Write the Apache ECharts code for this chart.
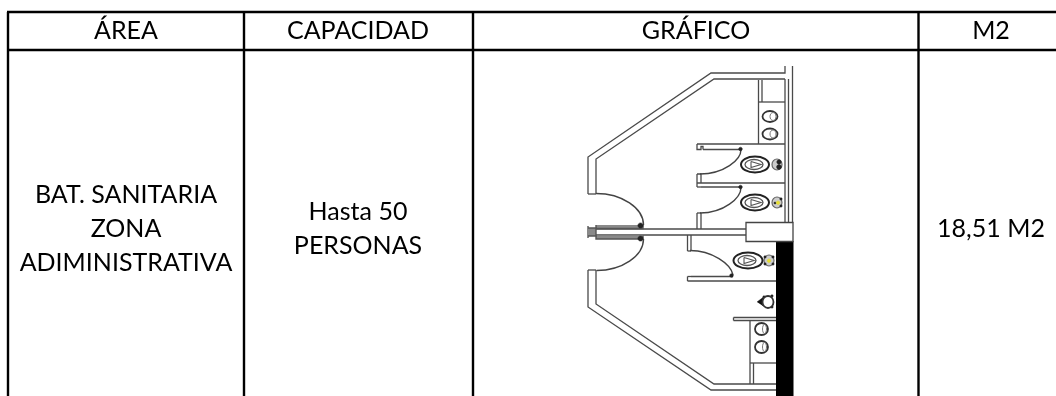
<!DOCTYPE html>
<html><head><meta charset="utf-8">
<style>html,body{margin:0;padding:0;background:#fff}#c{width:1056px;height:396px}</style>
<script src="https://cdn.jsdelivr.net/npm/echarts@6/dist/echarts.min.js"></script>
</head><body><div id="c"></div>
<script>
const headers = [["ÁREA",126,31],["CAPACIDAD",358,31],["GRÁFICO",696,31],["M2",991,31]];
const cells = [
  ["BAT. SANITARIA",126,195],["ZONA",126,229],["ADIMINISTRATIVA",126,263],
  ["Hasta 50",358,212],["PERSONAS",358,246],["18,51 M2",991,229]
];
const tableRules = [
  [[7,12],[1056,12]],[[7,50],[1056,50]],
  [[8,12],[8,396]],[[244,12],[244,396]],[[473,12],[473,396]],[[918.5,12],[918.5,396]]
];
const walls = [
  [[588,194],[588,157],[711,73],[785,73],[785,66]],
  [[596,194],[596,159],[714,79],[785,79]],
  [[588,194],[596,194]],
  [[785,79],[785,223]],[[788.5,79],[788.5,223]],[[792.5,66],[792.5,223]],
  [[588,270],[596,270]],
  [[588,270],[588,307],[711,390],[776,390]],
  [[596,270],[596,304],[714,384],[776,384]],
  [[588,229],[746,229]],[[588,235],[746,235]],
  [[588,226],[588,238]],
  [[758.5,80],[758.5,144]],[[762,80],[762,102]],[[758.5,102],[785,102]],
  [[697,144],[785,144]],[[703,149.5],[741,149.5]],
  [[697,144],[697,149.5],[701,149.5],[701,146.5],[703,146.5],[703,149.5]],
  [[697,174],[697,187]],
  [[697,174],[701,174],[701,183]],
  [[697,183],[785,183]],[[701,187],[741,187]],
  [[697,187],[701,187]],
  [[697,213],[697,229]],[[701,213],[701,229]],[[697,213],[701,213]],
  [[687.5,235],[687.5,251]],[[691,235],[691,251]],[[687.5,251],[691,251]],
  [[691,276.5],[733,276.5]],[[687.5,281],[776,281]],
  [[687.5,276.5],[687.5,281]],[[687.5,276.5],[691,276.5]],
  [[733.5,317.5],[776,317.5]],[[733.5,320.5],[776,320.5]],[[733.5,317.5],[733.5,320.5]],
  [[750,320],[750,384]],[[753.5,363],[753.5,384]],[[750,363],[776,363]]
];
const doorBars = [
  [[596,225],[596,228.5],[643,228.5],[643,225]],
  [[596,235.5],[596,239],[643,239],[643,235.5]],
  [[588,228],[596,228],[596,236],[588,236]]
];
const doorSwings = [
  [[596,193.5],[622,193.5],[643.5,208],[643.5,225]],
  [[643.5,239],[643.5,256],[622,270.5],[596.5,270.5]],
  [[741,149.5],[741,160],[724,174],[700,174]],
  [[741,187.5],[741,198],[724,213],[700,213]],
  [[733,275],[731,264],[712,250.5],[690,250.5]]
];
const blobs = [[640.5,225.5,2.6],[640.5,238.5,2.6],[740.5,149,1.8],[740.5,187,1.8],[731.5,275.5,1.8],[779,162,2.2],[779,167,2.4],[775,203,1.1],[781,199,1.2],[781,206,1.2],[765,257,1.2],[765,264,1.2],[773,257,1.2],[773,264,1.2],[764,297,1.2],[772,296,1.2],[772,307,1.2]];
const toiletBowls = [[755,164.5,14,8],[755,202.5,14,8],[748,260.5,14.5,8]];
const toiletInner = [[754,164.5,9,5],[754,202.5,9,5],[747,260.5,9,5]];
const toiletSeats = [
  [[751,161.5],[761,164.5],[751,167.5],[751,161.5]],
  [[751,199.5],[761,202.5],[751,205.5],[751,199.5]],
  [[744,257.5],[754,260.5],[744,263.5],[744,257.5]]
];
const toiletTanks = [[777,164.5,5,5.5],[777,202.5,5,5.5],[769,260.5,5,5.5]];
const flushDots = [[778,202.7],[769,260.7]];
const basins = [[770,116.5,7.5,5.5],[770,134,7.5,5.5],[761.5,329,6.5,6],[761.5,347,6.5,6]];
const urinals = [[768,302,5.5,6]];
const urinalTips = [[[757,302],[763,297.5],[763,306]]];
const blackWall = [[776,241],[793.5,396]];
const serviceBlock = [[746,222.5],[793,241.5]];

function corners(p, api){ return p.map(q => api.coord(q)); }
function bounds(r, api){
  const a = api.coord(r[0]), b = api.coord(r[1]);
  return {x:a[0],y:a[1],width:b[0]-a[0],height:b[1]-a[1]};
}
function seriesOf(items, build){
  return {type:'custom',coordinateSystem:'cartesian2d',silent:true,clip:false,
    data:items.map((_,i)=>[i]),
    renderItem:(p,api)=>build(items[p.dataIndex],api)};
}
const lineS = (items,stroke,w,fill) => seriesOf(items,(pts,api)=>({type:'polyline',
  shape:{points:corners(pts,api)},style:{stroke,lineWidth:w,fill:fill||null}}));
const ellS = (items,stroke,w,fill) => seriesOf(items,(e,api)=>{
  const c=api.coord([e[0],e[1]]), s=api.size([e[2],e[3]]);
  return {type:'ellipse',shape:{cx:c[0],cy:c[1],rx:s[0],ry:s[1]},style:{stroke,lineWidth:w,fill:fill||'#fff'}};
});
const textS = items => seriesOf(items,(t,api)=>{
  const c=api.coord([t[1],t[2]]);
  return {type:'text',x:c[0],y:c[1],style:{text:t[0],fill:'#000',align:'center',verticalAlign:'middle',
    fontFamily:'Lato',fontSize:25}};
});

const chart = echarts.init(document.getElementById('c'),null,{renderer:'canvas'});
chart.setOption({
  animation:false,backgroundColor:'#fff',tooltip:{show:false},
  grid:{left:0,right:0,top:0,bottom:0},
  xAxis:{type:'value',min:0,max:1056,show:false},
  yAxis:{type:'value',min:0,max:396,inverse:true,show:false},
  series:[
    seriesOf([blackWall],(r,api)=>({type:'rect',shape:bounds(r,api),style:{fill:'#000'}})),
    lineS(walls,'#4a4a4a',1.3),
    lineS(doorBars,'#555',1.4,'#8a8a8a'),
    seriesOf(doorSwings,(k,api)=>{
      const q=corners(k,api);
      return {type:'bezierCurve',shape:{x1:q[0][0],y1:q[0][1],cpx1:q[1][0],cpy1:q[1][1],cpx2:q[2][0],cpy2:q[2][1],x2:q[3][0],y2:q[3][1]},
        style:{stroke:'#444',lineWidth:1.4,fill:null}};
    }),
    seriesOf([serviceBlock],(r,api)=>({type:'rect',shape:bounds(r,api),style:{fill:'#fff',stroke:'#444',lineWidth:1.3}})),
    ellS(toiletTanks,'#666',1.2,'#ccc'),
    ellS(toiletBowls,'#222',2),
    ellS(toiletInner,'#555',1.3),
    lineS(toiletSeats,'#555',1.1,'#fff'),
    ellS(blobs.map(b=>[b[0],b[1],b[2],b[2]]),'#222',0.5,'#222'),
    ellS(flushDots.map(d=>[d[0],d[1],1.8,1.8]),'#dcd23a',0.5,'#e8e030'),
    ellS(basins,'#333',1.8),
    ellS(basins.map(b=>[b[0]+3,b[1],b[2]-4.5,b[3]-1.5]),'#777',1),
    lineS(urinalTips,'#111',0.5,'#111'),
    ellS(urinals,'#333',1.8),
    lineS(tableRules,'#000',2.4),
    textS(headers),
    textS(cells)
  ]
});
</script></body></html>
